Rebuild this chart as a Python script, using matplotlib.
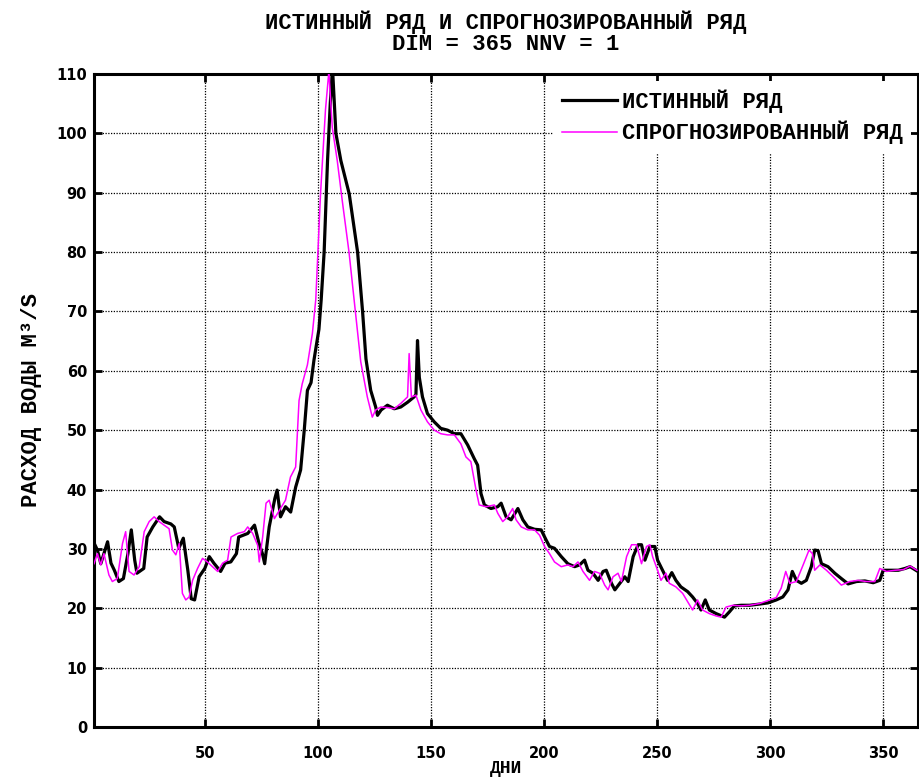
import matplotlib
matplotlib.use('Agg')
import matplotlib.pyplot as plt
import numpy as np

# истинный ряд (дни, расход)
dniIst = [1, 2.5, 4, 7, 8.5, 10, 12, 14, 16, 17.5, 19, 20, 23, 24.5, 27, 30, 32, 35, 36.5,
          38.5, 40.5, 42.5, 44, 45.5, 47.5, 50, 52, 54, 57, 59, 61.5, 64, 65, 69, 72, 74,
          75.5, 76.5, 78.5, 81, 82, 83.5, 85.7, 88, 90.2, 92.4, 94, 95.4, 97, 98.3, 100.5,
          101.5, 102.8, 104.3, 105.5, 106.5, 108, 110.2, 113.9, 117.6, 119.8, 121.3, 123.4,
          125.6, 126.4, 128, 130.8, 133.8, 136.7, 139.7, 142.6, 143.4, 144.1, 144.9, 146.3,
          148.5, 151.5, 154.4, 157.4, 160.4, 163.3, 166.3, 169.2, 170.7, 172.2, 173.7, 176.6,
          179.6, 181.1, 183.3, 185.5, 188.5, 190.7, 192.9, 195.9, 198.8, 201, 202.5, 204.7,
          207.7, 210.6, 213.6, 215.8, 218, 219.5, 221.7, 224, 226.2, 227.6, 229.9, 231.4,
          233.6, 235.8, 237.3, 239.5, 241.7, 243.2, 244.7, 246.9, 249.1, 250.3, 252.5, 254.7,
          256.6, 258.4, 260.6, 263.6, 265.8, 268, 269.5, 271.4, 273.2, 276.2, 279.9, 282.1,
          284.3, 287.3, 291, 295.4, 299.1, 302.8, 305.7, 308, 309.9, 311.7, 313.9, 316.1,
          318.3, 319.8, 321.3, 322.8, 325.7, 328.7, 331.6, 334.6, 338.3, 342, 345.7, 348.6,
          350.1, 353.1, 356.8, 359.7, 362, 365]
rasIst = [31, 29.8, 27.5, 31.2, 27.6, 26.4, 24.5, 25, 29.2, 33.2, 28.1, 25.9, 26.7, 32, 33.7,
          35.4, 34.6, 34.2, 33.7, 30.1, 31.8, 26.4, 21.6, 21.4, 25.3, 26.7, 28.7, 27.6, 26.2,
          27.6, 27.8, 29.2, 32, 32.6, 34, 30.9, 29.2, 27.5, 33.7, 38.5, 39.9, 35.4, 37.1, 36.2,
          40.4, 43.3, 50, 56.7, 58, 61.8, 67, 72, 80, 95.4, 105, 111, 100, 95.4, 89.8, 80, 70,
          62, 56.7, 53.9, 52.5, 53.4, 54.2, 53.6, 53.9, 54.7, 55.6, 56, 65.1, 58.9, 55.6,
          52.8, 51.4, 50.3, 50, 49.4, 49.4, 47.5, 45.2, 44.1, 39.3, 37.4, 36.8, 37.1, 37.7,
          35.4, 34.9, 36.8, 34.9, 33.7, 33.3, 33.2, 31.5, 30.4, 30.1, 28.7, 27.5, 27, 27.3,
          28.1, 26.4, 25.9, 24.7, 26.2, 26.4, 24.2, 23.1, 24.2, 25.3, 24.5, 28.7, 30.7, 30.7,
          28.1, 30.4, 30.4, 28.1, 26.4, 24.7, 26, 24.7, 23.6, 22.8, 21.9, 20.8, 19.7, 21.4,
          19.7, 19.1, 18.5, 19.4, 20.4, 20.5, 20.5, 20.7, 20.9, 21.4, 21.9, 23.1, 26.2, 24.7,
          24.2, 24.7, 27, 29.8, 29.7, 27.5, 27, 25.9, 25, 24.1, 24.5, 24.6, 24.3, 24.7, 26.4,
          26.4, 26.4, 26.7, 27, 26.3]

# спрогнозированный ряд
dniProg = [1, 2.5, 4, 5.4, 7.6, 9.1, 11.3, 13.6, 15, 16.5, 18.7, 21, 23.2, 25.4, 27.6, 29.8,
           32, 34.2, 35.7, 37.2, 38.7, 40.1, 41.6, 43.1, 44.6, 46.8, 49, 51.2, 53.4, 55.7,
           57.9, 60.1, 61.6, 64.5, 67.5, 69, 71.2, 73.4, 74.1, 75.6, 77.1, 78.5, 80.8, 83,
           85.7, 87.9, 90.2, 91.7, 93.1, 95.4, 97.6, 99.1, 101.2, 103.4, 104.9, 106.4, 108.6,
           110.8, 113.8, 116.7, 119, 121.9, 124.1, 125.6, 127.9, 130.8, 133.8, 136.7, 139.7,
           140.4, 141.4, 143.4, 145.6, 148.5, 151.5, 154.4, 157.4, 160.4, 163.3, 165.5, 167.7,
           170, 171.4, 174.4, 178.1, 179.6, 181.8, 184, 186.2, 187.7, 190, 192.9, 195.9, 198.1,
           200.3, 202.5, 204.7, 207.7, 210.6, 212.9, 215.1, 217.3, 220.2, 222.4, 224.6, 226.9,
           228.4, 230.6, 232.8, 234.3, 236.6, 238.8, 241, 243.2, 245.4, 246.9, 248.1, 250.3,
           251.8, 254, 255.5, 258.4, 261.4, 263.6, 265.8, 268, 270.2, 273.2, 276.2, 278.4,
           280.6, 283.6, 287.3, 291, 295.4, 299.1, 302.8, 305, 307, 308.8, 311.7, 314.7, 317.3,
           318.8, 319.8, 322.1, 325, 328, 331.6, 335.3, 339, 342.7, 346.4, 348.6, 351.6, 355.3,
           359, 362, 365]
rasProg = [27.5, 29.2, 27.3, 29.2, 25.6, 24.5, 25, 30.9, 32.9, 26.2, 25.6, 27, 32.9, 34.6,
           35.4, 34.6, 34, 33.4, 29.8, 29, 30.9, 22.5, 21.4, 21.9, 24.7, 26.7, 28.4, 27.8, 27,
           26.2, 27.6, 28.1, 32, 32.6, 32.9, 33.7, 32.6, 30.6, 27.8, 32, 37.7, 38.2, 35.1,
           36.5, 38.2, 42.1, 43.8, 55, 57.8, 61, 66.3, 72, 89.8, 104, 110.5, 101, 95.4, 88.7,
           80, 69.7, 61.5, 55.6, 52.2, 53.4, 53.9, 53.8, 53.6, 54.5, 55.6, 62.9, 55.6, 55.9,
           53.4, 51.4, 50, 49.4, 49.2, 49.2, 47.7, 45.5, 44.7, 39.9, 37.4, 37.1, 37.4, 36,
           34.6, 35.4, 36.8, 34.9, 33.7, 33.2, 33.2, 32.3, 30.4, 29.2, 27.8, 27, 27.3, 27,
           27.8, 26.2, 24.7, 26.2, 25.9, 23.9, 23.1, 25.3, 25.9, 24.5, 28.7, 30.7, 30.7, 27.5,
           30.4, 30.7, 28.7, 26.4, 24.7, 25.9, 24.2, 23.6, 22.5, 21.1, 19.7, 21.4, 19.7, 19.1,
           18.7, 18.5, 20.2, 20.5, 20.4, 20.5, 20.8, 21.3, 21.8, 23.4, 26.2, 24.2, 24.5, 27.3,
           29.8, 29.2, 26.4, 27.3, 26.4, 25.3, 23.9, 24.5, 24.7, 24.5, 24.5, 26.7, 26.2, 26.4,
           26.5, 27.1, 26.4]

xTicks = [50, 100, 150, 200, 250, 300, 350]
yTicks = list(range(0, 111, 10))

mono = 'Liberation Mono'

fig = plt.figure(figsize=(9.19, 7.78), dpi=100)
ax = fig.add_axes([0.1023, 0.0656, 0.8966, 0.8393])

ax.plot(dniIst, rasIst, color='k', lw=2.3, label='ИСТИННЫЙ РЯД', zorder=3)
ax.plot(dniProg, rasProg, color='#ff00ff', lw=1.1, label='СПРОГНОЗИРОВАННЫЙ РЯД', zorder=4)

ax.set_xlim(1, 365.5)
ax.set_ylim(0, 110)
ax.set_xticks(xTicks)
ax.set_yticks(yTicks)
ax.grid(True, color='k', linestyle=(0, (1, 1.2)), lw=0.9)
ax.tick_params(direction='in', length=6, width=2, top=True, right=True)
ax.tick_params(axis='x', pad=14)
ax.tick_params(axis='y', pad=5)
for lab in ax.get_xticklabels() + ax.get_yticklabels():
  lab.set_fontweight('bold')
  lab.set_fontsize(10.5)
  lab.set_family('DejaVu Sans')
for s in ax.spines.values():
  s.set_linewidth(2.2)

ax.set_title('ИСТИННЫЙ РЯД И СПРОГНОЗИРОВАННЫЙ РЯД\nDIM = 365 NNV = 1',
             family=mono, fontweight='bold', fontsize=16, pad=17, linespacing=1.05)
ax.set_xlabel('ДНИ', family=mono, fontweight='bold', fontsize=13, labelpad=-1)
ax.set_ylabel('РАСХОД ВОДЫ М³/S', family=mono, fontweight='bold', fontsize=16, labelpad=10)

leg = ax.legend(loc='upper right', prop={'family': mono, 'weight': 'bold', 'size': 16},
                frameon=True, fancybox=False, handlelength=2.5, handletextpad=0.2,
                borderaxespad=0.3, labelspacing=0.35, borderpad=0.4)
leg.get_frame().set_edgecolor('none')
leg.get_frame().set_facecolor('white')
leg.get_frame().set_alpha(1)

fig.savefig('out.png', dpi=100)
